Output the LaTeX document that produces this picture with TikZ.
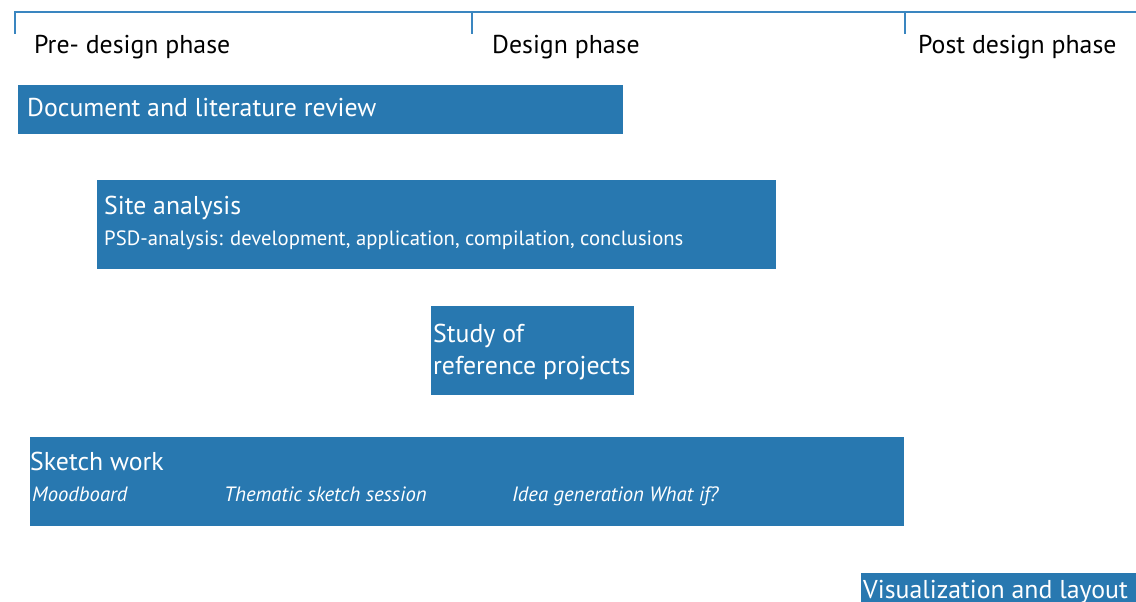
\documentclass[tikz,border=0pt]{standalone}
\usepackage{fontspec}
\setmainfont{PT Sans}
\definecolor{barblue}{HTML}{2878B0}
\definecolor{lineblue}{HTML}{3A86C0}
\begin{document}
\begin{tikzpicture}[x=1pt,y=-1pt,
  bar/.style={fill=barblue,draw=none},
  phase/.style={anchor=base west,inner sep=0pt,font=\fontsize{25.8}{30}\selectfont,text=black},
  title/.style={anchor=base west,inner sep=0pt,font=\fontsize{25.8}{30}\selectfont,text=white},
  sub/.style={anchor=base west,inner sep=0pt,font=\fontsize{20.7}{24}\selectfont,text=white},
  subit/.style={anchor=base west,inner sep=0pt,font=\fontsize{20.7}{24}\selectfont\itshape,text=white},
  tick/.style={draw=lineblue,line width=1.3pt}]
\useasboundingbox (0,0) rectangle (1136,602);
% timeline
\coordinate (tl) at (15,12);
\coordinate (tr) at (1136,12);
\draw[tick] (15,34) -- (tl) -- (tr);
\draw[tick] (472,12) -- (472,34);
\draw[tick] (905,12) -- (905,34);
\node[phase] (p1) at (34,54) {Pre- design phase};
\node[phase] (p2) at (492,54) {Design phase};
\node[phase] (p3) at (918,54) {Post design phase};
% bars
\fill[bar] (18,85) rectangle (623,134);
\node[title] (doc) at (27,117) {Document and literature review};
\fill[bar] (97,180) rectangle (776,269);
\node[title] (site) at (104,214) {Site analysis};
\node[sub] (psd) at (104,245) {PSD-analysis: development, application, compilation, conclusions};
\fill[bar] (431,306) rectangle (634,395);
\node[title] (st1) at (433,342) {Study of};
\node[title] (st2) at (433,374) {reference projects};
\fill[bar] (30,437) rectangle (904,526);
\node[title] (sk) at (30,470) {Sketch work};
\node[subit] (mb) at (32,501) {Moodboard};
\node[subit] (th) at (224,501) {Thematic sketch session};
\node[subit] (ig) at (512,501) {Idea generation What if?};
\fill[bar] (861,573) rectangle (1136,602);
\node[title] (vis) at (863,598) {Visualization and layout};
\end{tikzpicture}
\end{document}
